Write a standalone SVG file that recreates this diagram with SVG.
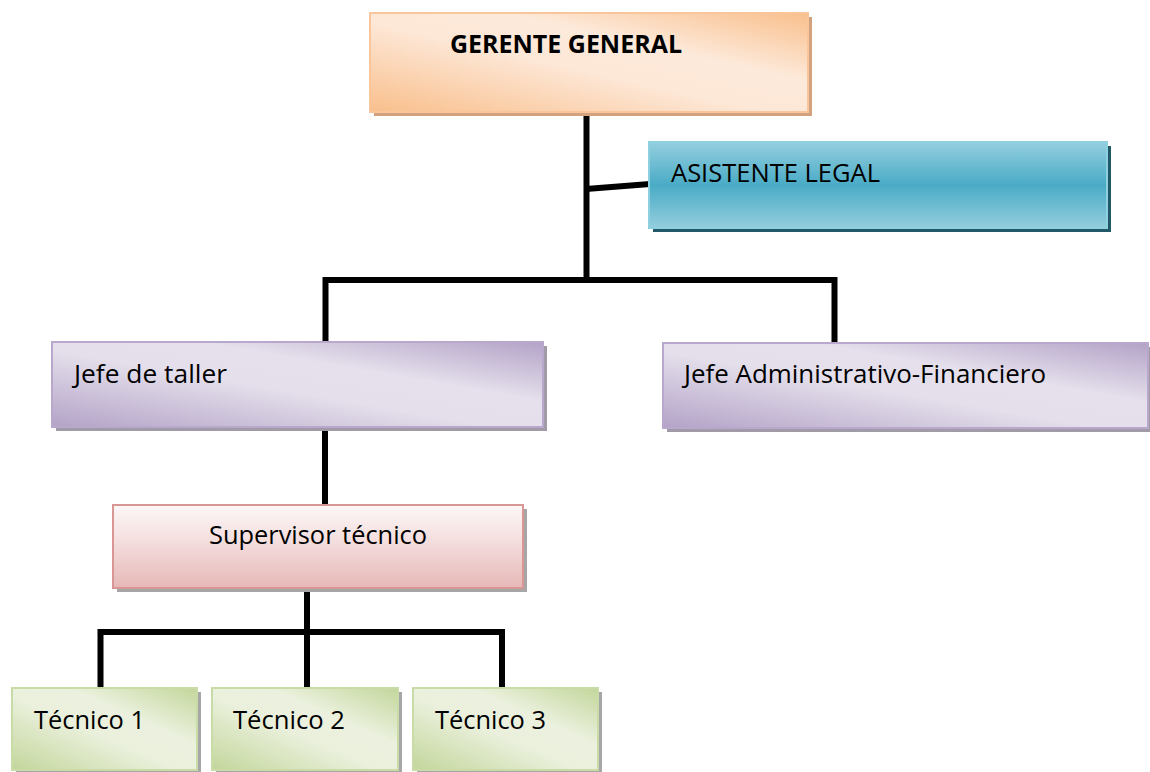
<svg xmlns="http://www.w3.org/2000/svg" width="1150" height="772" viewBox="0 0 1150 772">
<style>
.lbl{font-family:"Open Sans","Liberation Sans",sans-serif;font-size:25px;fill:#000}
.b{font-weight:bold}
.conn{fill:none;stroke:#000;stroke-width:6;stroke-linejoin:miter;stroke-linecap:butt}
.shOr{fill:#d2a27e}
.shTe{fill:#215968}
.shGr{fill:#a19ba8}
.shGy{fill:#a6a6a6}
</style>
<defs>
<linearGradient id="gOr" x1="0" y1="1" x2="1" y2="0">
<stop offset="0" stop-color="#f9bf8c"/><stop offset="0.45" stop-color="#fde7d6"/><stop offset="0.65" stop-color="#fdeadb"/><stop offset="1" stop-color="#f9bf8c"/>
</linearGradient>
<linearGradient id="gTe" x1="0" y1="0" x2="0" y2="1">
<stop offset="0" stop-color="#94cfdf"/><stop offset="0.5" stop-color="#4aabc6"/><stop offset="1" stop-color="#93cedd"/>
</linearGradient>
<linearGradient id="gPu" x1="0" y1="1" x2="1" y2="0">
<stop offset="0" stop-color="#b3a2c7"/><stop offset="0.45" stop-color="#e4dfeb"/><stop offset="0.65" stop-color="#e5e0ec"/><stop offset="1" stop-color="#b3a2c7"/>
</linearGradient>
<linearGradient id="gPk" x1="0" y1="0" x2="0" y2="1">
<stop offset="0" stop-color="#fdf7f7"/><stop offset="0.4" stop-color="#f5e0e0"/><stop offset="1" stop-color="#e6b8b7"/>
</linearGradient>
<linearGradient id="gGr" x1="0" y1="1" x2="1" y2="0">
<stop offset="0" stop-color="#c3d69b"/><stop offset="0.45" stop-color="#eaf0dc"/><stop offset="0.65" stop-color="#ebf1de"/><stop offset="1" stop-color="#c3d69b"/>
</linearGradient>
</defs>
<rect width="1150" height="772" fill="#fff"/>
<g id="connectors">
<path class="conn" d="M586.5 112 V280"/>
<path class="conn" d="M586 189 L650 184"/>
<path class="conn" d="M325.5 343 V280 H834.5 V343"/>
<path class="conn" d="M325 426 V506"/>
<path class="conn" d="M307 588 V689"/>
<path class="conn" d="M100.5 689 V632 H502 V689"/>
</g>
<g id="gerente">
<rect class="shOr" x="374" y="17" width="438" height="99"/>
<rect x="370" y="13" width="438" height="99" fill="url(#gOr)" stroke="#f9c59a" stroke-width="2"/>
<text class="lbl b" x="450" y="53" textLength="232" lengthAdjust="spacingAndGlyphs">GERENTE GENERAL</text>
</g>
<g id="asistente">
<rect class="shTe" x="653" y="146" width="458" height="86"/>
<rect x="649" y="142" width="458" height="86" fill="url(#gTe)" stroke="#8fd0e0" stroke-width="2"/>
<text class="lbl" x="671" y="182" textLength="209" lengthAdjust="spacingAndGlyphs">ASISTENTE LEGAL</text>
</g>
<g id="jefe-taller">
<rect class="shGr" x="56" y="346" width="491" height="85"/>
<rect x="52" y="342" width="491" height="85" fill="url(#gPu)" stroke="#b8a8cc" stroke-width="2"/>
<text class="lbl" x="74" y="383" textLength="153" lengthAdjust="spacingAndGlyphs">Jefe de taller</text>
</g>
<g id="jefe-admin">
<rect class="shGr" x="667" y="347" width="485" height="85"/>
<rect x="663" y="343" width="485" height="85" fill="url(#gPu)" stroke="#b8a8cc" stroke-width="2"/>
<text class="lbl" x="684" y="383" textLength="362" lengthAdjust="spacingAndGlyphs">Jefe Administrativo-Financiero</text>
</g>
<g id="supervisor">
<rect class="shGy" x="117" y="509" width="410" height="83"/>
<rect x="113" y="505" width="410" height="83" fill="url(#gPk)" stroke="#d99694" stroke-width="2"/>
<text class="lbl" x="209" y="544" textLength="218" lengthAdjust="spacingAndGlyphs">Supervisor técnico</text>
</g>
<g id="tecnico1">
<rect class="shGy" x="16" y="692" width="185" height="84"/>
<rect x="12" y="688" width="185" height="82" fill="url(#gGr)" stroke="#c9dba6" stroke-width="2"/>
<text class="lbl" x="34" y="729" textLength="111" lengthAdjust="spacingAndGlyphs">Técnico 1</text>
</g>
<g id="tecnico2">
<rect class="shGy" x="216" y="692" width="186" height="84"/>
<rect x="212" y="688" width="186" height="82" fill="url(#gGr)" stroke="#c9dba6" stroke-width="2"/>
<text class="lbl" x="233" y="729" textLength="112" lengthAdjust="spacingAndGlyphs">Técnico 2</text>
</g>
<g id="tecnico3">
<rect class="shGy" x="417" y="692" width="185" height="84"/>
<rect x="413" y="688" width="185" height="82" fill="url(#gGr)" stroke="#c9dba6" stroke-width="2"/>
<text class="lbl" x="435" y="729" textLength="111" lengthAdjust="spacingAndGlyphs">Técnico 3</text>
</g>
</svg>
